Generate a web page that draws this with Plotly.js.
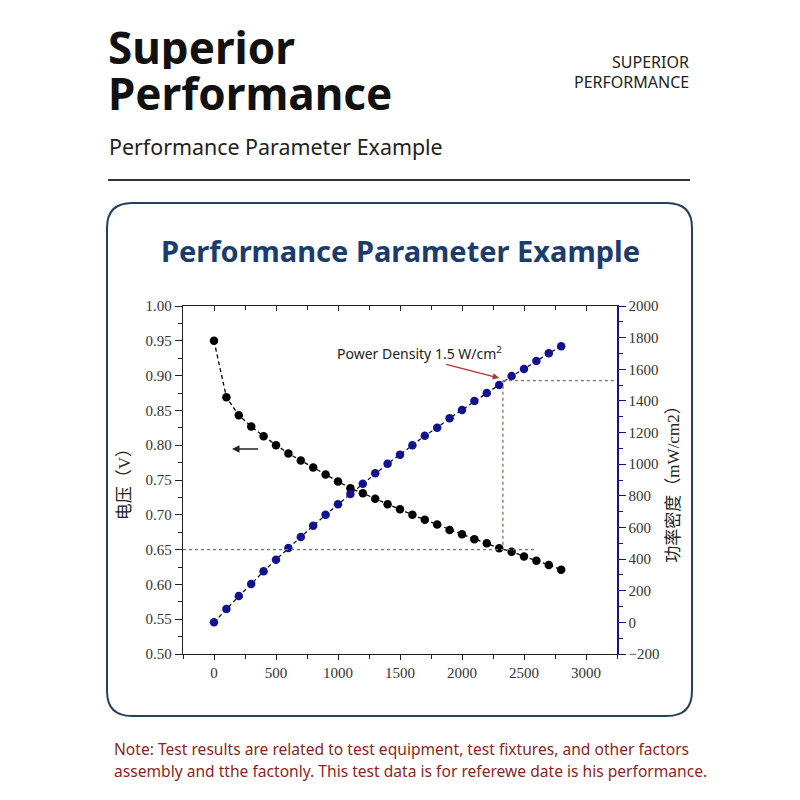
<!DOCTYPE html>
<html>
<head>
<meta charset="utf-8">
<script src="https://cdn.plot.ly/plotly-3.0.1.min.js"></script>
<style>
html,body{margin:0;padding:0;background:#fff;}
#chart{width:800px;height:800px;}
</style>
</head>
<body>
<div id="chart"></div>
<script>
// ---- data ----
const currentDensity = [0,100,200,300,400,500,600,700,800,900,1000,1100,1200,1300,1400,1500,1600,1700,1800,1900,2000,2100,2200,2300,2400,2500,2600,2700,2800];
const voltage = [0.950,0.869,0.843,0.827,0.813,0.800,0.788,0.778,0.768,0.758,0.748,0.738,0.731,0.723,0.715,0.708,0.700,0.693,0.686,0.678,0.672,0.665,0.659,0.652,0.647,0.640,0.634,0.628,0.621];
const powerDensity = [0,85,166,242,323,396,470,540,611,681,746,811,877,942,1003,1060,1119,1180,1231,1290,1343,1399,1450,1501,1557,1602,1652,1701,1745];

const headerTitle = ["Superior", "Performance"];
const headerRight = ["SUPERIOR", "PERFORMANCE"];
const subTitle = "Performance Parameter Example";
const chartTitle = "Performance Parameter Example";
const noteLines = [
  "Note: Test results are related to test equipment, test fixtures, and other factors",
  "assembly and tthe factonly. This test data is for referewe date is his performance."
];
const yTitle = "电压（V）";
const y2Title = "功率密度（mW/cm2）";
const calloutText = "Power Density 1.5 W/cm<sup>2</sup>";
const refVoltage = 0.65;
const refCurrent = 2330;
const refPower = 1528;

const P = v => v / 800;          // pixel -> paper (800 px square)
const Y = v => 1 - v / 800;

const serif = "Liberation Serif, 'Noto Sans CJK SC', serif";
const sans = "'Noto Sans', 'Open Sans', sans-serif";
const navy = "#12128f";

const traces = [
  {
    x: currentDensity, y: voltage, xaxis: 'x', yaxis: 'y',
    type: 'scatter', mode: 'lines+markers',
    line: {color: '#000', width: 1.3, dash: '4px,3px'},
    marker: {color: '#000', size: 8.5},
    hoverinfo: 'skip'
  },
  {
    x: currentDensity, y: powerDensity, xaxis: 'x2', yaxis: 'y2',
    type: 'scatter', mode: 'lines+markers',
    line: {color: '#101040', width: 1.3, dash: '4px,3px'},
    marker: {color: navy, size: 8.5},
    hoverinfo: 'skip'
  }
];

// rounded box path
const bx0 = P(107), bx1 = P(692), byT = Y(203), byB = Y(716), r = P(25);
const boxPath = `M ${bx0 + r},${byT} L ${bx1 - r},${byT} Q ${bx1},${byT} ${bx1},${byT - r} ` +
  `L ${bx1},${byB + r} Q ${bx1},${byB} ${bx1 - r},${byB} L ${bx0 + r},${byB} ` +
  `Q ${bx0},${byB} ${bx0},${byB + r} L ${bx0},${byT - r} Q ${bx0},${byT} ${bx0 + r},${byT} Z`;

const xRange = [-250, 3250];

const layout = {
  width: 800, height: 800,
  margin: {l: 0, r: 0, t: 0, b: 0},
  paper_bgcolor: '#fff', plot_bgcolor: 'rgba(0,0,0,0)',
  showlegend: false,
  xaxis: {
    domain: [P(183), P(617)], range: xRange, anchor: 'y',
    dtick: 500, tick0: 0, ticks: 'outside', ticklen: 5, tickcolor: '#222',
    minor: {dtick: 250, tick0: 0, ticks: 'outside', ticklen: 4, tickcolor: '#222'},
    showline: true, linecolor: '#222', linewidth: 1.2,
    showgrid: false, zeroline: false,
    tickfont: {family: serif, size: 15, color: '#333'},
    fixedrange: true
  },
  xaxis2: {
    overlaying: 'x', side: 'top', anchor: 'y2', range: xRange,
    dtick: 500, tick0: 0, ticks: 'inside', ticklen: 5, tickcolor: '#222',
    minor: {dtick: 250, tick0: 0, ticks: 'inside', ticklen: 4, tickcolor: '#222'},
    showline: true, linecolor: '#222', linewidth: 1.2,
    showticklabels: false, showgrid: false, zeroline: false, fixedrange: true
  },
  yaxis: {
    domain: [Y(654), Y(306)], range: [0.5, 1.0], anchor: 'x',
    dtick: 0.05, tick0: 0.5, tickformat: '.2f',
    ticks: 'outside', ticklen: 7, tickcolor: '#222',
    minor: {dtick: 0.025, tick0: 0.5, ticks: 'outside', ticklen: 4, tickcolor: '#222'},
    showline: true, linecolor: '#222', linewidth: 1.2,
    showgrid: false, zeroline: false,
    tickfont: {family: serif, size: 15, color: '#333'},
    title: {text: yTitle, font: {family: serif, size: 17, color: '#222'}, standoff: 10},
    fixedrange: true
  },
  yaxis2: {
    overlaying: 'y', side: 'right', anchor: 'x2', range: [-200, 2000],
    dtick: 200, tick0: 0,
    ticks: 'outside', ticklen: 7, tickcolor: navy,
    minor: {dtick: 100, tick0: 0, ticks: 'outside', ticklen: 4, tickcolor: navy},
    showline: true, linecolor: navy, linewidth: 1.5,
    showgrid: false, zeroline: false,
    tickfont: {family: serif, size: 15, color: '#333'},
    title: {text: y2Title, font: {family: serif, size: 17, color: '#222'}, standoff: 8},
    fixedrange: true
  },
  shapes: [
    {type: 'line', xref: 'paper', yref: 'paper', x0: P(108), x1: P(690), y0: Y(180), y1: Y(180),
     line: {color: '#333', width: 2}},
    {type: 'path', xref: 'paper', yref: 'paper', path: boxPath,
     line: {color: '#23405e', width: 2}, fillcolor: 'rgba(0,0,0,0)'},
    // guide lines
    {type: 'line', xref: 'x', yref: 'y', x0: xRange[0], x1: 2600, y0: refVoltage, y1: refVoltage,
     line: {color: '#777', width: 1.2, dash: 'dot'}},
    {type: 'line', xref: 'x', yref: 'y', x0: refCurrent, x1: refCurrent, y0: 0.657, y1: 0.893,
     line: {color: '#a0524a', width: 1.2, dash: 'dot'}},
    {type: 'line', xref: 'x2', yref: 'y2', x0: refCurrent, x1: 3250, y0: refPower, y1: refPower,
     line: {color: '#777', width: 1.2, dash: 'dot'}}
  ],
  annotations: [
    {xref: 'paper', yref: 'paper', x: P(106), y: Y(47), xanchor: 'left', yanchor: 'middle',
     text: headerTitle[0], showarrow: false, height: 44,
     font: {family: sans, size: 44, color: '#111', weight: 'bold'}},
    {xref: 'paper', yref: 'paper', x: P(106), y: Y(93), xanchor: 'left', yanchor: 'middle',
     text: headerTitle[1], showarrow: false, height: 44,
     font: {family: sans, size: 44, color: '#111', weight: 'bold'}},
    {xref: 'paper', yref: 'paper', x: P(691), y: Y(62), xanchor: 'right', yanchor: 'middle',
     text: headerRight[0], showarrow: false,
     font: {family: sans, size: 16, color: '#222'}},
    {xref: 'paper', yref: 'paper', x: P(691), y: Y(82), xanchor: 'right', yanchor: 'middle',
     text: headerRight[1], showarrow: false,
     font: {family: sans, size: 16, color: '#222'}},
    {xref: 'paper', yref: 'paper', x: P(107), y: Y(146), xanchor: 'left', yanchor: 'middle',
     text: subTitle, showarrow: false,
     font: {family: sans, size: 21.4, color: '#222'}},
    {xref: 'paper', yref: 'paper', x: 0.5, y: Y(250), xanchor: 'center', yanchor: 'middle',
     text: chartTitle, showarrow: false,
     font: {family: sans, size: 29, color: '#1b3d6d', weight: 'bold'}},
    {xref: 'paper', yref: 'paper', x: P(112), y: Y(749), xanchor: 'left', yanchor: 'middle',
     text: noteLines[0], showarrow: false,
     font: {family: sans, size: 15.6, color: '#8e1f24'}},
    {xref: 'paper', yref: 'paper', x: P(112), y: Y(771), xanchor: 'left', yanchor: 'middle',
     text: noteLines[1], showarrow: false,
     font: {family: sans, size: 15.6, color: '#8e1f24'}},
    // callout
    {xref: 'x', yref: 'y', x: 973, y: 0.9325, xanchor: 'left', yanchor: 'middle',
     text: calloutText, showarrow: false,
     font: {family: sans, size: 14, color: '#222'}},
    {xref: 'x', yref: 'y', x: 2300, y: 0.8965, axref: 'x', ayref: 'y', ax: 1860, ay: 0.9167,
     text: '', showarrow: true, arrowhead: 2, arrowsize: 1, arrowwidth: 1.3, arrowcolor: '#b5322e'},
    {xref: 'x', yref: 'y', x: 145, y: 0.7945, axref: 'x', ayref: 'y', ax: 368, ay: 0.7945,
     text: '', showarrow: true, arrowhead: 2, arrowsize: 1, arrowwidth: 1.5, arrowcolor: '#222'}
  ]
};

Plotly.newPlot('chart', traces, layout, {displayModeBar: false, staticPlot: true});
</script>
</body>
</html>
